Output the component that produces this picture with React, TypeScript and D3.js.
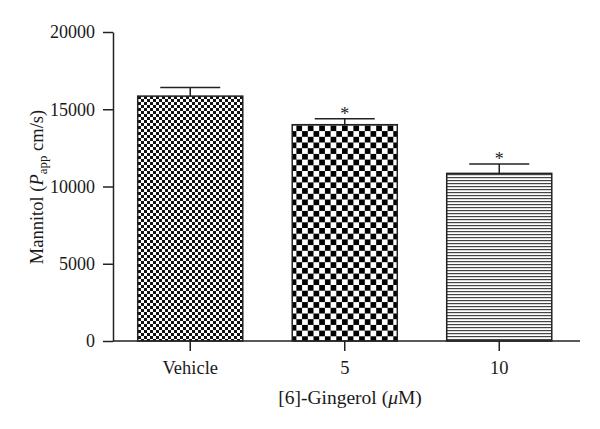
import React, { useEffect, useRef } from "react";
import * as d3 from "d3";

const categories = ["Vehicle", "5", "10"];
const means = [15850, 14000, 10850];
const errors = [550, 380, 600];
const significant = [false, true, true];
const patternIds = ["pat-fine", "pat-coarse", "pat-lines"];
const yTicks = [0, 5000, 10000, 15000, 20000];

const W = 600;
const H = 429;
const FONT = "'Liberation Serif', 'Times New Roman', serif";

export default function App() {
  const svgRef = useRef<SVGSVGElement>(null);

  useEffect(() => {
    const svg = d3.select(svgRef.current);
    svg.selectAll("*").remove();

    const x = d3
      .scaleBand<string>()
      .domain(categories)
      .range([113, 576.5])
      .paddingInner(0.32)
      .paddingOuter(0.16);
    const y = d3.scaleLinear().domain([0, 20000]).range([341, 32]);

    // fill patterns
    const defs = svg.append("defs");
    const fine = defs
      .append("pattern")
      .attr("id", "pat-fine")
      .attr("patternUnits", "userSpaceOnUse")
      .attr("width", 6)
      .attr("height", 6);
    fine.append("rect").attr("width", 6).attr("height", 6).attr("fill", "#fff");
    fine.append("rect").attr("width", 3).attr("height", 3).attr("fill", "#111");
    fine.append("rect").attr("x", 3).attr("y", 3).attr("width", 3).attr("height", 3).attr("fill", "#111");

    const cs = 5.7;
    const coarse = defs
      .append("pattern")
      .attr("id", "pat-coarse")
      .attr("patternUnits", "userSpaceOnUse")
      .attr("width", cs * 2)
      .attr("height", cs * 2);
    coarse.append("rect").attr("width", cs * 2).attr("height", cs * 2).attr("fill", "#fff");
    coarse.append("rect").attr("width", cs).attr("height", cs).attr("fill", "#000");
    coarse.append("rect").attr("x", cs).attr("y", cs).attr("width", cs).attr("height", cs).attr("fill", "#000");

    const lines = defs
      .append("pattern")
      .attr("id", "pat-lines")
      .attr("patternUnits", "userSpaceOnUse")
      .attr("width", 6)
      .attr("height", 3);
    lines.append("rect").attr("width", 6).attr("height", 3).attr("fill", "#fff");
    lines.append("rect").attr("y", 0).attr("width", 6).attr("height", 1.2).attr("fill", "#444");

    // bars
    svg
      .selectAll(".bar")
      .data(means)
      .join("rect")
      .attr("class", "bar")
      .attr("x", (d, i) => x(categories[i])!)
      .attr("y", (d) => y(d))
      .attr("width", x.bandwidth())
      .attr("height", (d) => y(0) - y(d))
      .attr("fill", (d, i) => `url(#${patternIds[i]})`)
      .attr("stroke", "#222")
      .attr("stroke-width", 1.5);

    // error bars
    const cap = 30;
    const eb = svg
      .selectAll(".err")
      .data(means)
      .join("g")
      .attr("class", "err")
      .attr("stroke", "#222")
      .attr("stroke-width", 1.5);
    eb.append("line")
      .attr("x1", (d, i) => x(categories[i])! + x.bandwidth() / 2)
      .attr("x2", (d, i) => x(categories[i])! + x.bandwidth() / 2)
      .attr("y1", (d) => y(d))
      .attr("y2", (d, i) => y(d + errors[i]));
    eb.append("line")
      .attr("x1", (d, i) => x(categories[i])! + x.bandwidth() / 2 - cap)
      .attr("x2", (d, i) => x(categories[i])! + x.bandwidth() / 2 + cap)
      .attr("y1", (d, i) => y(d + errors[i]))
      .attr("y2", (d, i) => y(d + errors[i]));

    // asterisks
    svg
      .selectAll(".star")
      .data(categories.map((c, i) => i).filter((i) => significant[i]))
      .join("text")
      .attr("class", "star")
      .attr("x", (i) => x(categories[i])! + x.bandwidth() / 2)
      .attr("y", (i) => y(means[i] + errors[i]) + 1)
      .attr("text-anchor", "middle")
      .style("font-family", FONT)
      .style("font-size", "18px")
      .attr("fill", "#222")
      .text("*");

    // y axis
    const yAxis = d3
      .axisLeft(y)
      .tickValues(yTicks)
      .tickSize(10)
      .tickSizeOuter(0)
      .tickPadding(8)
      .tickFormat((d) => String(d));
    const ga = svg.append("g").attr("transform", "translate(113,0)").call(yAxis);
    ga.selectAll("path, line").attr("stroke", "#222").attr("stroke-width", 1.5);
    ga.selectAll("text")
      .style("font-family", FONT)
      .style("font-size", "18px")
      .attr("fill", "#1a1a1a");

    // x axis
    const xAxis = d3.axisBottom(x).tickSize(10).tickSizeOuter(0).tickPadding(10);
    const gx = svg.append("g").attr("transform", "translate(0,341)").call(xAxis);
    gx.select(".domain").remove();
    gx.selectAll("line").attr("stroke", "#222").attr("stroke-width", 1.5);
    gx.selectAll("text")
      .style("font-family", FONT)
      .style("font-size", "18.5px")
      .attr("fill", "#1a1a1a");
    svg
      .append("line")
      .attr("x1", 113)
      .attr("x2", 580)
      .attr("y1", 341)
      .attr("y2", 341)
      .attr("stroke", "#222")
      .attr("stroke-width", 1.5);

    // axis titles
    const xt = svg
      .append("text")
      .attr("x", 350)
      .attr("y", 404)
      .attr("text-anchor", "middle")
      .style("font-family", FONT)
      .style("font-size", "19.5px")
      .attr("fill", "#1a1a1a");
    xt.append("tspan").text("[6]-Gingerol (");
    xt.append("tspan").style("font-style", "italic").text("μ");
    xt.append("tspan").text("M)");

    const yt = svg
      .append("text")
      .attr("transform", "translate(43,187) rotate(-90)")
      .attr("text-anchor", "middle")
      .style("font-family", FONT)
      .style("font-size", "18.5px")
      .attr("fill", "#1a1a1a");
    yt.append("tspan").text("Mannitol (");
    yt.append("tspan").style("font-style", "italic").text("P");
    yt.append("tspan").attr("dy", 4).style("font-size", "13px").text("app");
    yt.append("tspan").attr("dy", -4).text(" cm/s)");
  }, []);

  return (
    <svg
      ref={svgRef}
      width={W}
      height={H}
      style={{ position: "absolute", left: 0, top: 0, background: "#fff" }}
    />
  );
}
